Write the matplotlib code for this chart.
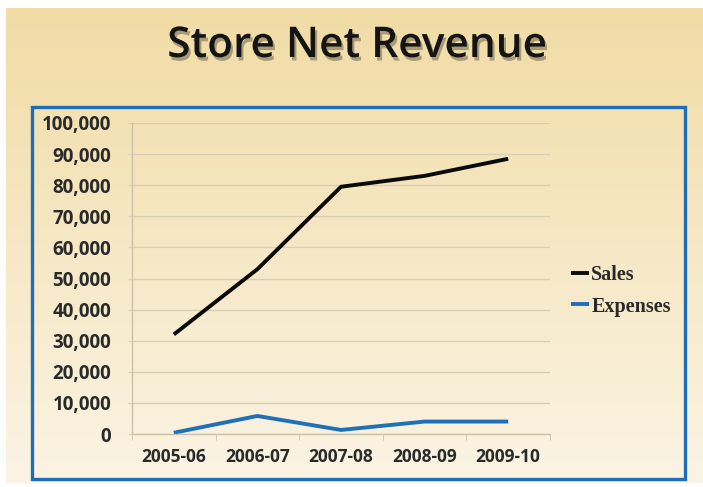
import numpy as np
import matplotlib
matplotlib.use("Agg")
import matplotlib.pyplot as plt
import matplotlib.patheffects as pe
from matplotlib.patches import Rectangle
from matplotlib.ticker import FuncFormatter, FixedLocator

# Data
years = ["2005-06", "2006-07", "2007-08", "2008-09", "2009-10"]
sales = [32000, 53000, 79500, 83000, 88500]
expenses = [400, 5800, 1300, 4000, 4000]

W, H = 703, 487
fig = plt.figure(figsize=(W / 100, H / 100), dpi=100)
fig.patch.set_facecolor("white")

# background gradient (white margin at top/left)
bg = fig.add_axes([6 / W, 4 / H, (W - 6) / W, (H - 12) / H], zorder=-5)
grad = np.linspace(0, 1, 256).reshape(-1, 1)
top = np.array([241, 220, 165]) / 255
bot = np.array([251, 244, 228]) / 255
img = top + (bot - top) * grad[..., None]
img = img.reshape(256, 1, 3)
bg.imshow(img, aspect="auto", extent=[0, 1, 0, 1], origin="upper")
bg.set_axis_off()

# blue frame
fig.patches.append(Rectangle((32 / W, 1 - 479 / H), (685 - 32) / W, (479 - 107) / H,
                             transform=fig.transFigure, fill=False,
                             edgecolor="#1f6cb8", linewidth=2.4, zorder=2))

# title with drop shadow
fig.text(357 / W, 1 - 46 / H, "Store Net Revenue", ha="center", va="center",
         fontsize=30.5, fontweight="semibold", family="Open Sans", color="#141414",
         path_effects=[pe.SimplePatchShadow(offset=(1.5, -2.5), shadow_rgbFace="black", alpha=0.3),
                       pe.Normal()])

ax = fig.add_axes([132 / W, 1 - 434 / H, (550 - 132) / W, (434 - 123) / H])
ax.set_facecolor("none")
x = np.arange(len(years))
ax.plot(x, sales, color="#0a0a0a", lw=2.8, label="Sales", solid_capstyle="butt")
ax.plot(x, expenses, color="#1f70b8", lw=2.8, label="Expenses", solid_capstyle="butt")

ax.set_xlim(-0.5, len(years) - 0.5)
ax.set_ylim(0, 100000)
ax.set_yticks(range(0, 100001, 10000))
ax.yaxis.set_major_formatter(FuncFormatter(lambda v, p: f"{int(v):,}"))
ax.set_xticks(x)
ax.set_xticklabels(years)
ax.xaxis.set_minor_locator(FixedLocator(np.arange(-0.5, len(years), 1.0)))

ax.grid(axis="y", color="#d9cfb6", lw=1)
ax.set_axisbelow(True)
for s in ["top", "right"]:
    ax.spines[s].set_visible(False)
for s in ["left", "bottom"]:
    ax.spines[s].set_color("#cbc2aa")
    ax.spines[s].set_linewidth(1)

ax.tick_params(axis="x", which="major", length=0, pad=10)
ax.tick_params(axis="x", which="minor", length=4, color="#cbc2aa", direction="out")
ax.tick_params(axis="y", length=3, color="#d9cfb6", pad=12)
for lab in ax.get_xticklabels():
    lab.set_fontfamily("Open Sans")
    lab.set_fontweight("bold")
    lab.set_fontsize(12.5)
    lab.set_color("#2a2a2a")
for lab in ax.get_yticklabels():
    lab.set_fontfamily("Open Sans")
    lab.set_fontweight("bold")
    lab.set_fontsize(13.5)
    lab.set_color("#2a2a2a")

fig.legend(loc="center left", bbox_to_anchor=(561 / W, 1 - 291 / H), frameon=False,
           handlelength=0.9, handletextpad=0.1, labelspacing=0.55, borderpad=0,
           prop={"family": "Liberation Serif", "weight": "bold", "size": 14.5},
           labelcolor="#2a2a2a")

fig.savefig("out.png", dpi=100)
